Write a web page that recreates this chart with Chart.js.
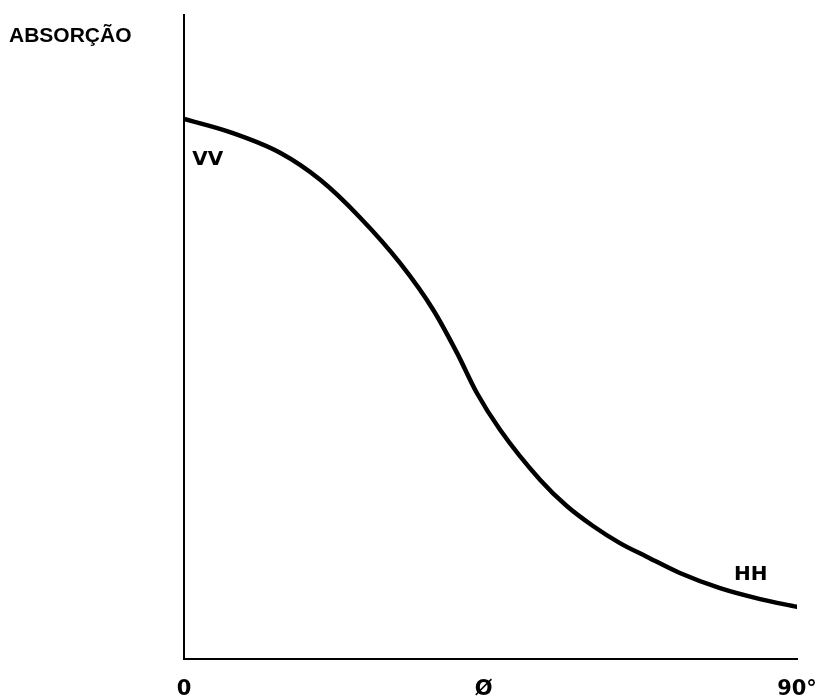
<!DOCTYPE html>
<html>
<head>
<meta charset="utf-8">
<script src="https://cdn.jsdelivr.net/npm/chart.js@4"></script>
<style>
  html, body { margin: 0; padding: 0; background: #fff; }
  #wrap { width: 830px; height: 697px; position: relative; }
</style>
</head>
<body>
<div id="wrap"><canvas id="c"></canvas></div>
<script>
// Angle (degrees) and relative absorption
const angles = [0, 6.75, 14.1, 20.0, 25.8, 31.7, 36.6, 40.1, 43.0, 46.4, 52.3, 56.2, 60.05, 64.0, 68.0, 72.8, 78.7, 84.6, 90];
const absorption = [83.85, 81.8, 78.6, 74.4, 68.6, 61.5, 54.2, 47.5, 41.3, 35.6, 27.8, 23.75, 20.65, 18.0, 15.85, 13.35, 11.0, 9.3, 8.1];

// X-axis tick positions and their labels
const tickValues = [0, 44, 90];
const tickLabels = ['0', 'Ø', '90°'];

// Curve annotations (data coordinates)
const annotations = [
  { text: 'VV', x: 3.5, y: 77.5 },
  { text: 'HH', x: 83.2, y: 13.0 }
];
const yAxisTitle = 'ABSORÇÃO';

const textPlugin = {
  id: 'textPlugin',
  afterDraw(chart) {
    const ctx = chart.ctx;
    const xs = chart.scales.x, ys = chart.scales.y;
    ctx.save();
    ctx.fillStyle = '#000';
    ctx.font = 'bold 20px "DejaVu Sans", sans-serif';
    ctx.textAlign = 'center';
    ctx.textBaseline = 'middle';
    annotations.forEach(a => {
      ctx.fillText(a.text, xs.getPixelForValue(a.x), ys.getPixelForValue(a.y));
    });
    ctx.font = 'bold 21px "Liberation Sans", Arial, sans-serif';
    ctx.textAlign = 'left';
    ctx.textBaseline = 'alphabetic';
    ctx.fillText(yAxisTitle, 9, 42);
    ctx.restore();
  }
};

new Chart(document.getElementById('c'), {
  type: 'line',
  data: {
    datasets: [{
      data: angles.map((a, i) => ({ x: a, y: absorption[i] })),
      borderColor: '#000',
      borderWidth: 4.5,
      pointRadius: 0,
      fill: false,
      cubicInterpolationMode: 'monotone',
      borderCapStyle: 'round'
    }]
  },
  options: {
    responsive: true,
    maintainAspectRatio: false,
    animation: false,
    layout: { padding: { left: 184, right: 33, top: 15, bottom: 0 } },
    plugins: { legend: { display: false }, tooltip: { enabled: false } },
    scales: {
      x: {
        type: 'linear',
        min: 0, max: 90,
        afterBuildTicks(scale) { scale.ticks = tickValues.map(v => ({ value: v })); },
        afterFit(scale) { scale.height = 38; scale.paddingLeft = 0; scale.paddingRight = 0; },
        grid: { display: false, drawTicks: false },
        border: { display: true, color: '#000', width: 2 },
        ticks: {
          padding: 18,
          color: '#000',
          font: { family: '"DejaVu Sans", sans-serif', size: 21, weight: 'bold' },
          maxRotation: 0,
          autoSkip: false,
          callback(v) { const i = tickValues.indexOf(v); return i >= 0 ? tickLabels[i] : ''; }
        }
      },
      y: {
        type: 'linear',
        min: 0, max: 100,
        afterFit(scale) { scale.width = 0; scale.paddingTop = 0; scale.paddingBottom = 0; },
        grid: { display: false, drawTicks: false },
        border: { display: true, color: '#000', width: 2 },
        ticks: { display: false }
      }
    }
  },
  plugins: [textPlugin]
});
</script>
</body>
</html>
